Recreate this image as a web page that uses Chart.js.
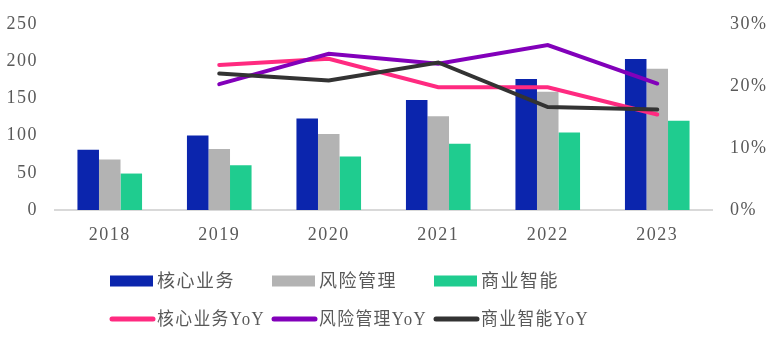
<!DOCTYPE html>
<html><head><meta charset="utf-8">
<script src="https://cdn.jsdelivr.net/npm/chart.js@4/dist/chart.umd.min.js"></script>
<style>html,body{margin:0;padding:0;background:#fff}#wrap{width:779px;height:341px}</style>
</head><body><div id="wrap"><canvas id="c" width="779" height="341"></canvas></div>
<script>
const years = ['2018','2019','2020','2021','2022','2023'];
const coreBiz = [81, 100, 123, 148, 176, 203];
const riskMgmt = [68, 82, 102, 126, 159, 190];
const bizIntel = [49, 60, 72, 89, 104, 120];
const coreYoY = [null, 23.4, 24.4, 19.8, 19.8, 15.4];
const riskYoY = [null, 20.3, 25.2, 23.6, 26.6, 20.4];
const biYoY = [null, 22.0, 20.9, 23.8, 16.6, 16.2];
const leftTicks = [0, 50, 100, 150, 200, 250];
const rightTicks = [0, 10, 20, 30];

const FONT = '"Liberation Serif", "Noto Sans CJK SC", serif';
const TXT = '#595959';
const spacing = {
  id: 'spacing',
  beforeUpdate(c){ c.ctx.letterSpacing = '1.5px'; },
  beforeDraw(c){ c.ctx.letterSpacing = '1.5px'; }
};
const customLegend = {
  id: 'customLegend',
  afterDraw(c){
    const ctx = c.ctx;
    ctx.save();
    ctx.letterSpacing = '1.5px';
    ctx.font = '18px ' + FONT;
    ctx.textBaseline = 'middle';
    ctx.fillStyle = TXT;
    const cols = [110, 272, 434], rows = [281, 319];
    c.data.datasets.forEach((ds, i) => {
      const x = cols[i % 3], y = rows[Math.floor(i / 3)];
      if (ds.type === 'bar') {
        ctx.fillStyle = ds.backgroundColor;
        ctx.fillRect(x, y - 5.5, 43, 11);
      } else {
        ctx.strokeStyle = ds.borderColor;
        ctx.lineWidth = 5;
        ctx.lineCap = 'round';
        ctx.beginPath(); ctx.moveTo(x + 2, y); ctx.lineTo(x + 43, y); ctx.stroke();
      }
      ctx.fillStyle = TXT;
      ctx.fillText(ds.label, x + 47, y + 1, 108);
    });
    ctx.restore();
  }
};
function fixV(w){ return s => { s.width = w; s.paddingTop = 0; s.paddingBottom = 0; }; }

new Chart(document.getElementById('c'), {
  data: {
    labels: years,
    datasets: [
      {type:'bar', label:'核心业务', data: coreBiz, backgroundColor:'#0B25AD', yAxisID:'y', order:4},
      {type:'bar', label:'风险管理', data: riskMgmt, backgroundColor:'#B3B3B3', yAxisID:'y', order:5},
      {type:'bar', label:'商业智能', data: bizIntel, backgroundColor:'#1FCC8F', yAxisID:'y', order:6},
      {type:'line', label:'核心业务YoY', data: coreYoY, borderColor:'#FF2A80', backgroundColor:'#FF2A80', borderWidth:4, pointRadius:0, tension:0, yAxisID:'y1', order:3, borderCapStyle:'round'},
      {type:'line', label:'风险管理YoY', data: riskYoY, borderColor:'#8200BA', backgroundColor:'#8200BA', borderWidth:4, pointRadius:0, tension:0, yAxisID:'y1', order:2, borderCapStyle:'round'},
      {type:'line', label:'商业智能YoY', data: biYoY, borderColor:'#333333', backgroundColor:'#333333', borderWidth:4, pointRadius:0, tension:0, yAxisID:'y1', order:1, borderCapStyle:'round'}
    ]
  },
  options: {
    responsive:false, animation:false,
    layout:{padding:{top:24, bottom:95, left:0, right:0}},
    plugins:{legend:{display:false}, tooltip:{enabled:false}},
    datasets:{bar:{barPercentage:1, categoryPercentage:0.59}},
    scales:{
      x:{
        grid:{display:false, drawTicks:false},
        border:{display:true, color:'#D9D9D9', width:2},
        ticks:{color:TXT, font:{family:FONT, size:18}, padding:14},
        afterFit(s){ s.height = 36; s.paddingLeft = 0; s.paddingRight = 0; }
      },
      y:{
        position:'left', min:0, max:250,
        afterBuildTicks(s){ s.ticks = leftTicks.map(v => ({value:v})); },
        grid:{display:false, drawTicks:false}, border:{display:false},
        ticks:{color:TXT, font:{family:FONT, size:18}, padding:17},
        afterFit: fixV(55)
      },
      y1:{
        position:'right', min:0, max:30,
        afterBuildTicks(s){ s.ticks = rightTicks.map(v => ({value:v})); },
        grid:{display:false, drawTicks:false}, border:{display:false},
        ticks:{color:TXT, font:{family:FONT, size:18}, padding:18, callback:v => v + '%'},
        afterFit: fixV(67)
      }
    }
  },
  plugins:[spacing, customLegend]
});
</script></body></html>
